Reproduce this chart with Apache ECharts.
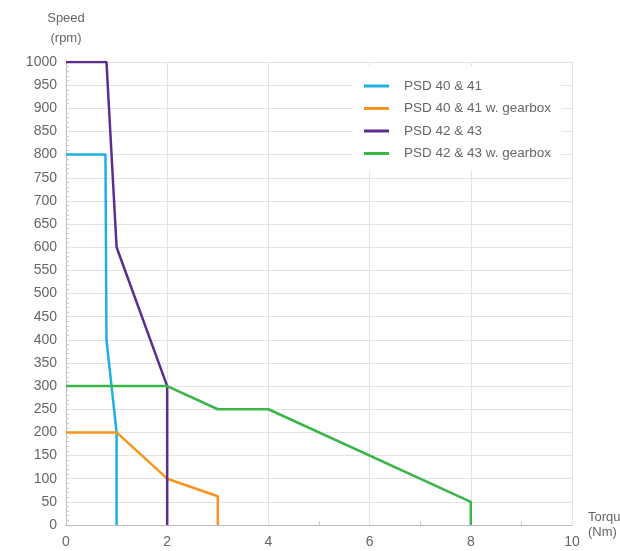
<!DOCTYPE html>
<html><head><meta charset="utf-8">
<script src="https://cdn.jsdelivr.net/npm/echarts@6/dist/echarts.min.js"></script>
<style>html,body{margin:0;padding:0;background:#fff}#c{width:620px;height:551px}</style>
</head><body><div id="c"></div>
<script>
const seriesNames = ['PSD 40 & 41', 'PSD 40 & 41 w. gearbox', 'PSD 42 & 43', 'PSD 42 & 43 w. gearbox'];
const psd4041 = [[0, 800], [0.78, 800], [0.8, 400], [1, 200], [1, 0]];
const psd4041Gear = [[0, 200], [1, 200], [2, 100], [3, 62], [3, 0]];
const psd4243 = [[0, 1000], [0.8, 1000], [1, 600], [2, 300], [2, 0]];
const psd4243Gear = [[0, 300], [2, 300], [3, 250], [4, 250], [8, 50], [8, 0]];
const colors = ['#1cb0e4', '#f7941d', '#5c2d91', '#3ab54a'];

const chart = echarts.init(document.getElementById('c'), null, {renderer: 'canvas'});
const font = 'Liberation Sans, Arial, sans-serif';
const allData = [psd4041, psd4041Gear, psd4243, psd4243Gear];
chart.setOption({
  animation: false,
  textStyle: {fontFamily: font},
  grid: {left: 66, right: 48, top: 62, bottom: 26, containLabel: false, outerBoundsMode: 'none'},
  legend: {
    left: 353, top: 66, orient: 'vertical', itemGap: 8.5,
    backgroundColor: '#fff', padding: [13, 10, 10, 11],
    icon: 'rect', itemWidth: 25, itemHeight: 3,
    textStyle: {color: '#666', fontSize: 13.5, fontFamily: font, padding: [0, 0, 0, 10]},
    data: seriesNames
  },
  xAxis: {
    type: 'value', min: 0, max: 10, interval: 2,
    name: 'Torque\n(Nm)', nameLocation: 'end', nameGap: 16,
    nameTextStyle: {color: '#666', fontSize: 13, align: 'left', verticalAlign: 'middle', lineHeight: 15, padding: [26, 0, 0, 0]},
    axisLine: {lineStyle: {color: '#bbb'}},
    axisTick: {show: false, inside: true},
    minorTick: {show: true, splitNumber: 2, length: 4, lineStyle: {color: '#ccc'}},
    axisLabel: {color: '#666', fontSize: 14, margin: 10},
    splitLine: {lineStyle: {color: '#e2e2e2'}}
  },
  yAxis: {
    type: 'value', min: 0, max: 1000, interval: 50,
    name: 'Speed\n(rpm)', nameLocation: 'end', nameGap: 14,
    nameTextStyle: {color: '#666', fontSize: 13, align: 'center', lineHeight: 20},
    axisLine: {show: true, lineStyle: {color: '#bbb'}},
    axisTick: {show: false, inside: true},
    minorTick: {show: true, splitNumber: 5, length: 3, lineStyle: {color: '#ccc'}},
    minorSplitLine: {show: false},
    axisLabel: {color: '#666', fontSize: 14, margin: 9, formatter: v => String(v)},
    splitLine: {lineStyle: {color: '#e2e2e2'}}
  },
  series: allData.map((d, i) => ({
    name: seriesNames[i], type: 'line', data: d, showSymbol: false, symbol: 'none',
    lineStyle: {width: 2.5, color: colors[i]}, itemStyle: {color: colors[i]}, z: 2 + i
  }))
});
</script></body></html>
